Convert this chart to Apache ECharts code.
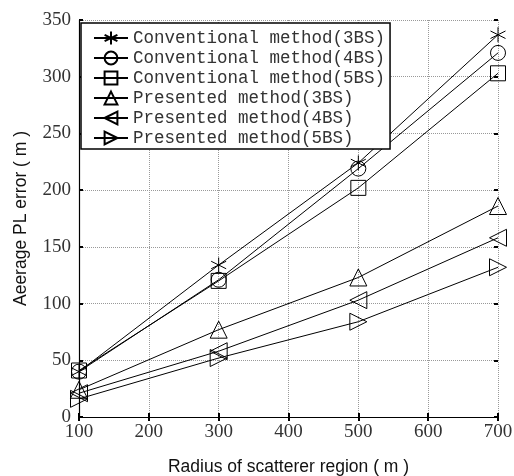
<!DOCTYPE html>
<html><head><meta charset="utf-8">
<script src="https://cdn.jsdelivr.net/npm/echarts@6/dist/echarts.min.js"></script>
<style>html,body{margin:0;padding:0;background:#fff}#c{width:514px;height:476px}</style>
</head><body><div id="c"></div>
<script>
const radius = [100, 300, 500, 700];
const seriesNames = ['Conventional method(3BS)','Conventional method(4BS)','Conventional method(5BS)','Presented method(3BS)','Presented method(4BS)','Presented method(5BS)'];
const conv3 = [40, 134, 224, 337];
const conv4 = [40, 121, 219, 321];
const conv5 = [41, 120, 202, 303];
const pres3 = [24, 77, 123, 186];
const pres4 = [21, 58, 103, 158];
const pres5 = [16, 52, 84, 132];
const xTicks = [100, 200, 300, 400, 500, 600, 700];
const yTicks = [0, 50, 100, 150, 200, 250, 300, 350];

const values = [conv3, conv4, conv5, pres3, pres4, pres5];
const symbols = [
  'path://M0,-10L0,10M-8.7,-5L8.7,5M-8.7,5L8.7,-5',
  'circle',
  'rect',
  'path://M0,-9L10,8L-10,8Z',
  'path://M-9,0L8,-10L8,10Z',
  'path://M9,0L-8,-10L-8,10Z'
];
const sizes = [15, 15, 15, 17, 17, 17];

const chart = echarts.init(document.getElementById('c'));
const serif = 'Liberation Serif';
const gridLine = {show: true, lineStyle: {color: '#999', type: [1, 1], width: 1}};
chart.setOption({
  animation: false,
  backgroundColor: '#fff',
  grid: {left: 79, right: 16, top: 20, bottom: 59, outerBoundsMode: 'none', containLabel: false},
  xAxis: [{
    type: 'value', min: xTicks[0], max: xTicks[xTicks.length-1], interval: 100,
    name: 'Radius of scatterer region ( m )', nameLocation: 'middle', nameGap: 41,
    nameTextStyle: {fontFamily: 'Liberation Sans', fontSize: 17.5, color: '#111'},
    axisLine: {lineStyle: {color: '#000', width: 1.2}},
    axisTick: {inside: true, length: 4, lineStyle: {color: '#000', width: 2}},
    axisLabel: {fontFamily: serif, fontSize: 19, color: '#333', margin: 6},
    splitLine: gridLine
  }, {
    type: 'value', position: 'top', min: 100, max: 700, interval: 100,
    axisLine: {show: false}, axisLabel: {show: false},
    axisTick: {inside: true, length: 4, lineStyle: {color: '#000', width: 2}},
    splitLine: {show: false}
  }],
  yAxis: [{
    type: 'value', min: yTicks[0], max: yTicks[yTicks.length-1], interval: 50,
    name: 'Aeerage PL error ( m )', nameLocation: 'middle', nameGap: 49,
    nameTextStyle: {fontFamily: 'Liberation Sans', fontSize: 17.5, color: '#111'},
    axisLine: {lineStyle: {color: '#000', width: 1.2}},
    axisTick: {inside: true, length: 4, lineStyle: {color: '#000', width: 2}},
    axisLabel: {fontFamily: serif, fontSize: 19, color: '#333', margin: 8},
    splitLine: gridLine
  }, {
    type: 'value', position: 'right', min: 0, max: 350, interval: 50,
    axisLine: {show: false}, axisLabel: {show: false},
    axisTick: {inside: true, length: 4, lineStyle: {color: '#000', width: 2}},
    splitLine: {show: false}
  }],
  legend: {
    orient: 'vertical', left: 81, top: 23, width: 310,
    backgroundColor: '#fff', borderColor: '#000', borderWidth: 1.5, borderRadius: 0,
    padding: [6, 5, 2, 12],
    itemWidth: 34, itemHeight: 16, itemGap: 2,
    textStyle: {fontFamily: 'Liberation Mono', fontSize: 17.5, color: '#333', lineHeight: 17},
    data: seriesNames
  },
  series: seriesNames.map((n, i) => ({
    name: n, type: 'line',
    data: radius.map((r, j) => [r, values[i][j]]),
    symbol: symbols[i], symbolSize: sizes[i], showSymbol: true,
    lineStyle: {color: '#000', width: 1},
    itemStyle: {color: 'rgba(0,0,0,0)', borderColor: '#000', borderWidth: 1},
    emphasis: {disabled: true}
  }))
});
</script></body></html>
